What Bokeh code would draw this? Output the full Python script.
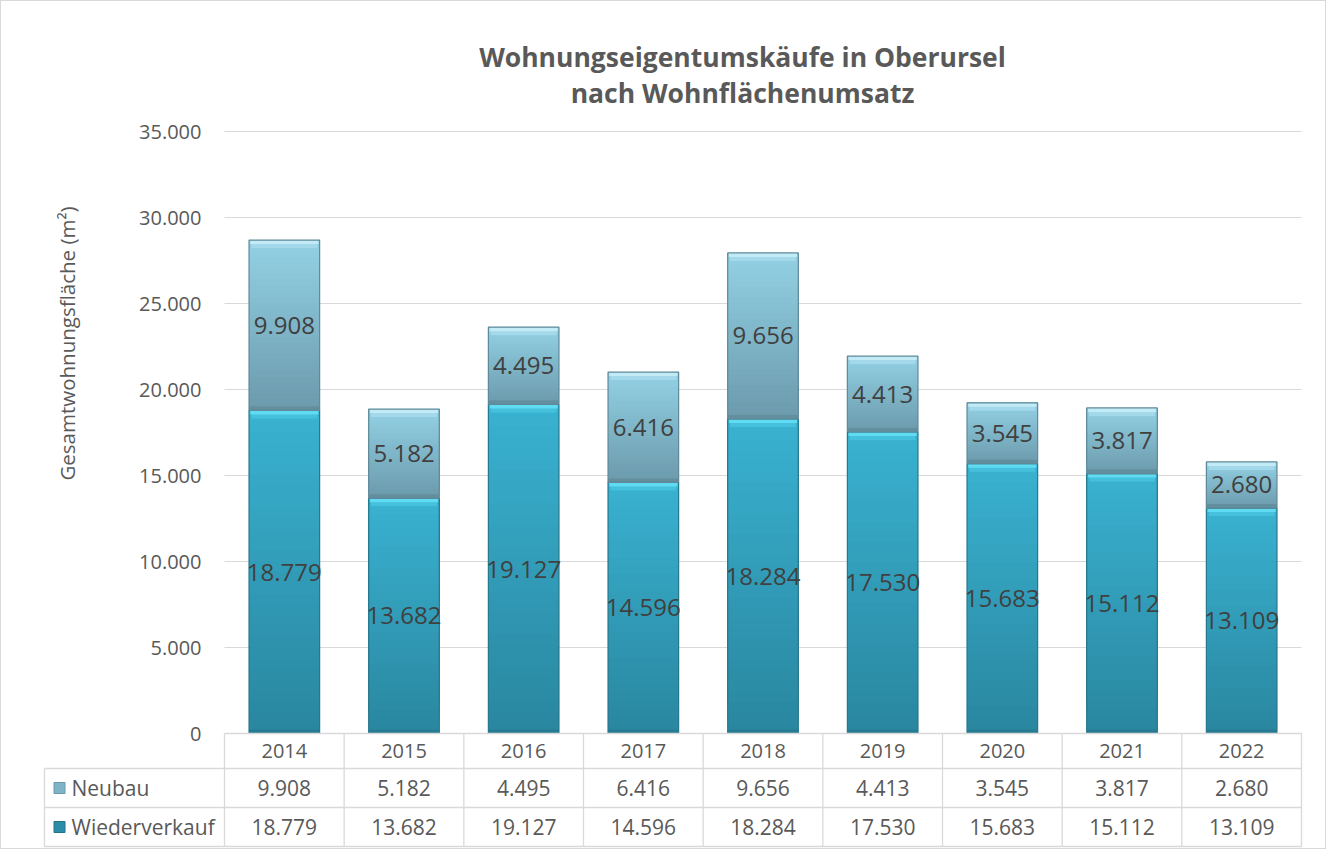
from math import pi
from bokeh.plotting import figure
from bokeh.models import Range1d, LinearAxis, FixedTicker, CustomJSTickFormatter, Label
from bokeh.embed import file_html
from bokeh.resources import INLINE
from bokeh.core.properties import value

# ---------------- data ----------------
years = ["2014", "2015", "2016", "2017", "2018", "2019", "2020", "2021", "2022"]
neubau = [9908, 5182, 4495, 6416, 9656, 4413, 3545, 3817, 2680]
wiederverkauf = [18779, 13682, 19127, 14596, 18284, 17530, 15683, 15112, 13109]
series_names = ["Neubau", "Wiederverkauf"]
y_ticks = [0, 5000, 10000, 15000, 20000, 25000, 30000, 35000]
title_lines = ["Wohnungseigentumskäufe in Oberursel", "nach Wohnflächenumsatz"]
y_label = "Gesamtwohnungsfläche (m²)"

def fmt(v):
    return f"{v:,}".replace(",", ".")

# ---------------- layout (page pixels) ----------------
FONT = "Open Sans"
OFF = 9                      # page margin + border
W, H = 1326, 849
PX_LEFT, PX_RIGHT = 50, 1311  # frame edges
PX_FTOP, PX_TOP, PX_ZERO, PX_BOTTOM = 10, 139, 741, 856
PX_PLOT_LEFT, PX_PLOT_RIGHT = 232, 1309
Y_MAX = 35000
n = len(years)
ppu = (PX_ZERO - PX_TOP) / Y_MAX
col_w = (PX_PLOT_RIGHT - PX_PLOT_LEFT) / n

def xd(px):
    return (px - PX_PLOT_LEFT) / col_w

def yd(px):
    return (PX_ZERO - px) / ppu

p = figure(width=W, height=H,
           x_range=Range1d(xd(PX_LEFT), xd(PX_RIGHT)),
           y_range=Range1d(yd(PX_BOTTOM), yd(PX_FTOP)),
           output_backend="svg", toolbar_location=None,
           x_axis_location=None, y_axis_location=None,
           min_border_left=PX_LEFT - OFF, min_border_right=OFF + W - PX_RIGHT,
           min_border_top=PX_FTOP - OFF, min_border_bottom=OFF + H - PX_BOTTOM)
p.outline_line_color = None
p.grid.visible = False
p.background_fill_color = "white"
p.border_fill_color = "white"
p.styles = {"border": "1px solid #d9d9d9"}

yaxis = LinearAxis(fixed_location=0,
                   ticker=FixedTicker(ticks=y_ticks),
                   formatter=CustomJSTickFormatter(code="return tick.toString().replace(/\\B(?=(\\d{3})+(?!\\d))/g, '.');"),
                   axis_line_color=None, major_tick_line_color=None, minor_tick_line_color=None,
                   major_tick_out=0, major_tick_in=0, major_label_standoff=23,
                   major_label_text_font=FONT, major_label_text_font_size="20px",
                   major_label_text_color="#595959")
p.add_layout(yaxis, "left")

# gridlines
p.segment(x0=0, x1=n, y0=y_ticks, y1=y_ticks, line_color="#d9d9d9", line_width=1.2)

# ---------------- bars ----------------
def hex2rgb(h):
    h = h.lstrip("#")
    return tuple(int(h[i:i + 2], 16) for i in (0, 2, 4))

def mix(c1, c2, t):
    a, b = hex2rgb(c1), hex2rgb(c2)
    return "#%02x%02x%02x" % tuple(round(a[i] + (b[i] - a[i]) * t) for i in range(3))

BAR_W = 0.59
NSL = 30
styles = {
    "Wiederverkauf": dict(top="#39b2d1", bot="#2a869f", bevel="#63dff4", bevel2="#48c4e0",
                          edge="#27788d", dark="#23748a"),
    "Neubau": dict(top="#93d1e5", bot="#6b9aab", bevel="#c6ecf7", bevel2="#a8dcec",
                   edge="#5f8999", dark="#5b8594"),
}
xs = [i + 0.5 for i in range(n)]
bottoms_w = [0] * n
tops_w = list(wiederverkauf)
bottoms_n = list(wiederverkauf)
tops_n = [a + b for a, b in zip(wiederverkauf, neubau)]

for name, bots, tops in [("Wiederverkauf", bottoms_w, tops_w), ("Neubau", bottoms_n, tops_n)]:
    st = styles[name]
    sx, sb, stp, sc = [], [], [], []
    for i in range(n):
        b, t = bots[i], tops[i]
        for k in range(NSL):
            s0 = b + (t - b) * k / NSL
            sx.append(xs[i]); sb.append(s0); stp.append(t)
            sc.append(mix(st["bot"], st["top"], (k + 0.5) / NSL))
    p.vbar(x=sx, bottom=sb, top=stp, width=BAR_W, fill_color=sc, line_color=None)
    # bevel at top
    p.vbar(x=xs, bottom=[t - 8 / ppu for t in tops], top=tops, width=BAR_W - 0.04,
           fill_color=st["bevel2"], line_color=None, fill_alpha=0.8)
    p.vbar(x=xs, bottom=[t - 4 / ppu for t in tops], top=tops, width=BAR_W - 0.02,
           fill_color=st["bevel"], line_color=None, fill_alpha=0.9)
    # darker strip at bottom
    p.vbar(x=xs, bottom=bots, top=[b + 4 / ppu for b in bots], width=BAR_W,
           fill_color=st["dark"], line_color=None, fill_alpha=0.6)
    p.vbar(x=xs, bottom=bots, top=tops, width=BAR_W, fill_color=None,
           line_color=st["edge"], line_width=1.2)

# data labels
p.text(x=xs, y=[w / 2 for w in wiederverkauf], text=[fmt(v) for v in wiederverkauf],
       text_align="center", text_baseline="middle", text_font=value(FONT),
       text_font_size="24px", text_color="#404040")
p.text(x=xs, y=[w + nb / 2 for w, nb in zip(wiederverkauf, neubau)], text=[fmt(v) for v in neubau],
       text_align="center", text_baseline="middle", text_font=value(FONT),
       text_font_size="24px", text_color="#404040")

# ---------------- data table ----------------
ROW_PX = [741, 776, 815, 854]
row_y = [yd(v) for v in ROW_PX]
LINE = "#d9d9d9"
leg_left = xd(52)
p.segment(x0=[0, leg_left, leg_left, leg_left], x1=[n] * 4, y0=row_y, y1=row_y,
          line_color=LINE, line_width=1.3)
p.segment(x0=list(range(n + 1)), x1=list(range(n + 1)), y0=[row_y[0]] * (n + 1),
          y1=[row_y[3]] * (n + 1), line_color=LINE, line_width=1.3)
p.segment(x0=[leg_left], x1=[leg_left], y0=[row_y[1]], y1=[row_y[3]], line_color=LINE, line_width=1.3)

centers = [(row_y[i] + row_y[i + 1]) / 2 for i in range(3)]
TBL_FONT = "21px"
p.text(x=xs, y=[centers[0]] * n, text=years, text_align="center", text_baseline="middle",
       text_font=value(FONT), text_font_size="20px", text_color="#595959")
p.text(x=xs, y=[centers[1]] * n, text=[fmt(v) for v in neubau], text_align="center",
       text_baseline="middle", text_font=value(FONT), text_font_size=TBL_FONT, text_color="#595959")
p.text(x=xs, y=[centers[2]] * n, text=[fmt(v) for v in wiederverkauf], text_align="center",
       text_baseline="middle", text_font=value(FONT), text_font_size=TBL_FONT, text_color="#595959")

# legend keys
p.rect(x=[xd(67)] * 2, y=centers[1:], width=11, height=11, width_units="screen",
       height_units="screen", fill_color=["#7fb3c6", "#2a8ea8"], line_color=["#6b9aab", "#237388"])
p.text(x=[xd(79)] * 2, y=centers[1:], text=series_names, text_align="left",
       text_baseline="middle", text_font=value(FONT), text_font_size=TBL_FONT, text_color="#595959")

# axis title
p.add_layout(Label(x=xd(74), y=yd(351), text=y_label, angle=pi / 2, text_align="center",
                   text_baseline="middle", text_font=FONT, text_font_size="20.5px",
                   text_color="#595959"))
# chart title
for ln, py in zip(title_lines, [64, 100]):
    p.add_layout(Label(x=xd(750), y=yd(py), text=ln, text_align="center", text_baseline="middle",
                       text_font=FONT, text_font_size="26.5px", text_font_style="bold",
                       text_color="#595959"))

open("out.html", "w").write(file_html(p, INLINE))
